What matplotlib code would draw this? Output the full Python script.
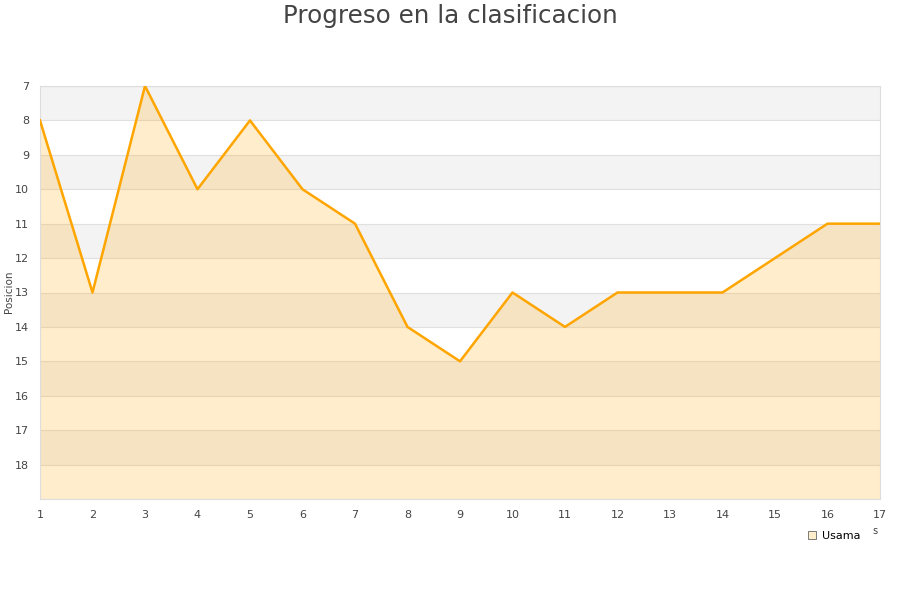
import matplotlib
matplotlib.use("Agg")
import matplotlib.pyplot as plt

jornadas = list(range(1, 18))
posicion = [8, 13, 7, 10, 8, 10, 11, 14, 15, 13, 14, 13, 13, 13, 12, 11, 11]
yticks = list(range(7, 19))
ORANGE = "#ffa500"

fig = plt.figure(figsize=(9, 6), dpi=100)
ax = fig.add_axes([40/900, 1 - 499/600, 840/900, 413/600])

# alternating bands
for y0 in range(7, 19, 2):
    ax.axhspan(y0, y0 + 1, color="#f3f3f3", zorder=0, lw=0)
for y in range(7, 20):
    ax.axhline(y, color="#e0e0e0", lw=0.8, zorder=1)

ax.fill_between(jornadas, posicion, 19, color=ORANGE, alpha=0.2, lw=0, zorder=2)
ax.plot(jornadas, posicion, color=ORANGE, lw=1.8, zorder=3)

ax.set_xlim(1, 17)
ax.set_ylim(19, 7)
ax.set_xticks(jornadas)
ax.set_yticks(yticks)
ax.tick_params(length=0, labelsize=8, colors="#444444", pad=8)
ax.tick_params(axis="y", pad=8)
for s in ax.spines.values():
    s.set_color("#dddddd")

fig.text(9/900, 1 - 292/600, "Posicion", rotation=90, fontsize=7.5, color="#444444",
         ha="center", va="center")
fig.text(0.5, 1 - 16/600, "Progreso en la clasificacion", ha="center", va="center",
         fontsize=17.7, color="#444444")
fig.text(875/900, 1 - 531/600, "s", fontsize=7, color="#444444", ha="center", va="center")

ax.plot([], [], "s", color="#ffeecc", markeredgecolor="#666666", markersize=6,
        markeredgewidth=0.6, label="Usama")
leg = ax.legend(loc="center left", bbox_to_anchor=(762/840, -37/413), frameon=False,
                fontsize=8, handlelength=1, handletextpad=0.4, borderaxespad=0)

fig.savefig("out.png", dpi=100)
